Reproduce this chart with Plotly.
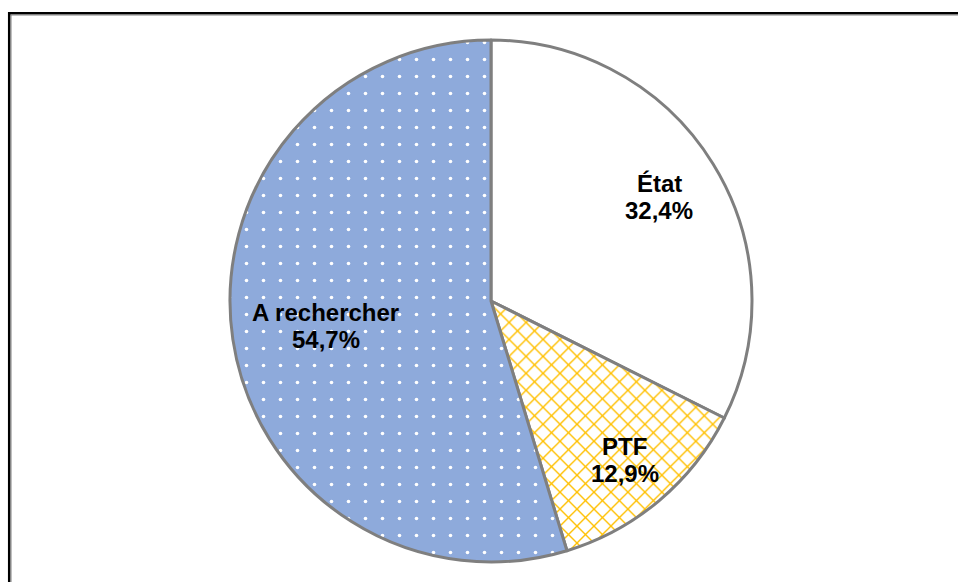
import math
import plotly.graph_objects as go

labels = ["État", "PTF", "A rechercher"]
values = [32.4, 12.9, 54.7]
value_text = ["32,4%", "12,9%", "54,7%"]

# label placement (fraction of radius along each slice's mid-angle)
label_radius = [0.758, 0.795, 0.64]

W, H = 958, 582
PX0, PX1, PY0, PY1 = 230, 752, 40, 562  # pie domain in pixels
cx, cy = (PX0 + PX1) / 2, (PY0 + PY1) / 2
R = (PX1 - PX0) / 2

fig = go.Figure()
fig.add_trace(go.Pie(
    labels=labels,
    values=values,
    sort=False,
    direction="clockwise",
    rotation=0,
    textinfo="none",
    marker=dict(
        colors=["#ffffff", "#ffffff", "#8eaadb"],
        line=dict(color="#7f7f7f", width=3),
        pattern=dict(
            shape=["", "x", "."],
            fgcolor=["#ffffff", "#ffc000", "#ffffff"],
            bgcolor=["#ffffff", "#ffffff", "#8eaadb"],
            size=[8, 12, 17],
            solidity=[0.1, 0.22, 0.035],
            fillmode="replace",
        ),
    ),
    domain=dict(x=[PX0 / W, PX1 / W], y=[1 - PY1 / H, 1 - PY0 / H]),
    showlegend=False,
    hoverinfo="skip",
))

annotations = []
total = sum(values)
cum = 0.0
font = dict(family="Liberation Sans, Arial", size=24, color="#000000")
for lab, val, txt, f in zip(labels, values, value_text, label_radius):
    mid = (cum + val / 2) / total * 2 * math.pi
    cum += val
    tx = cx + f * R * math.sin(mid)
    ty = cy - f * R * math.cos(mid)
    for line, dy in ((lab, -13.5), (txt, 13.5)):
        annotations.append(dict(
            x=tx / W, y=1 - (ty + dy) / H, xref="paper", yref="paper",
            text="<b>" + line + "</b>", showarrow=False, font=font,
            xanchor="center", yanchor="middle",
        ))

fig.update_layout(
    width=W, height=H,
    margin=dict(l=0, r=0, t=0, b=0),
    paper_bgcolor="#ffffff",
    plot_bgcolor="#ffffff",
    annotations=annotations,
    shapes=[
        dict(type="line", xref="paper", yref="paper", x0=8 / W, x1=1.0, y0=1 - 13.2 / H, y1=1 - 13.2 / H,
             line=dict(color="#000000", width=2.5)),
        dict(type="line", xref="paper", yref="paper", x0=10.5 / W, x1=1.0, y0=1 - 15 / H, y1=1 - 15 / H,
             line=dict(color="#808080", width=1)),
        dict(type="line", xref="paper", yref="paper", x0=9.2 / W, x1=9.2 / W, y0=0, y1=1 - 12 / H,
             line=dict(color="#000000", width=2.5)),
        dict(type="line", xref="paper", yref="paper", x0=11 / W, x1=11 / W, y0=0, y1=1 - 14.5 / H,
             line=dict(color="#808080", width=1)),
    ],
)

fig.write_html(
    "out.html",
    config={"displayModeBar": False},
    post_script="document.body.style.margin='0';document.body.style.overflow='hidden';",
)
